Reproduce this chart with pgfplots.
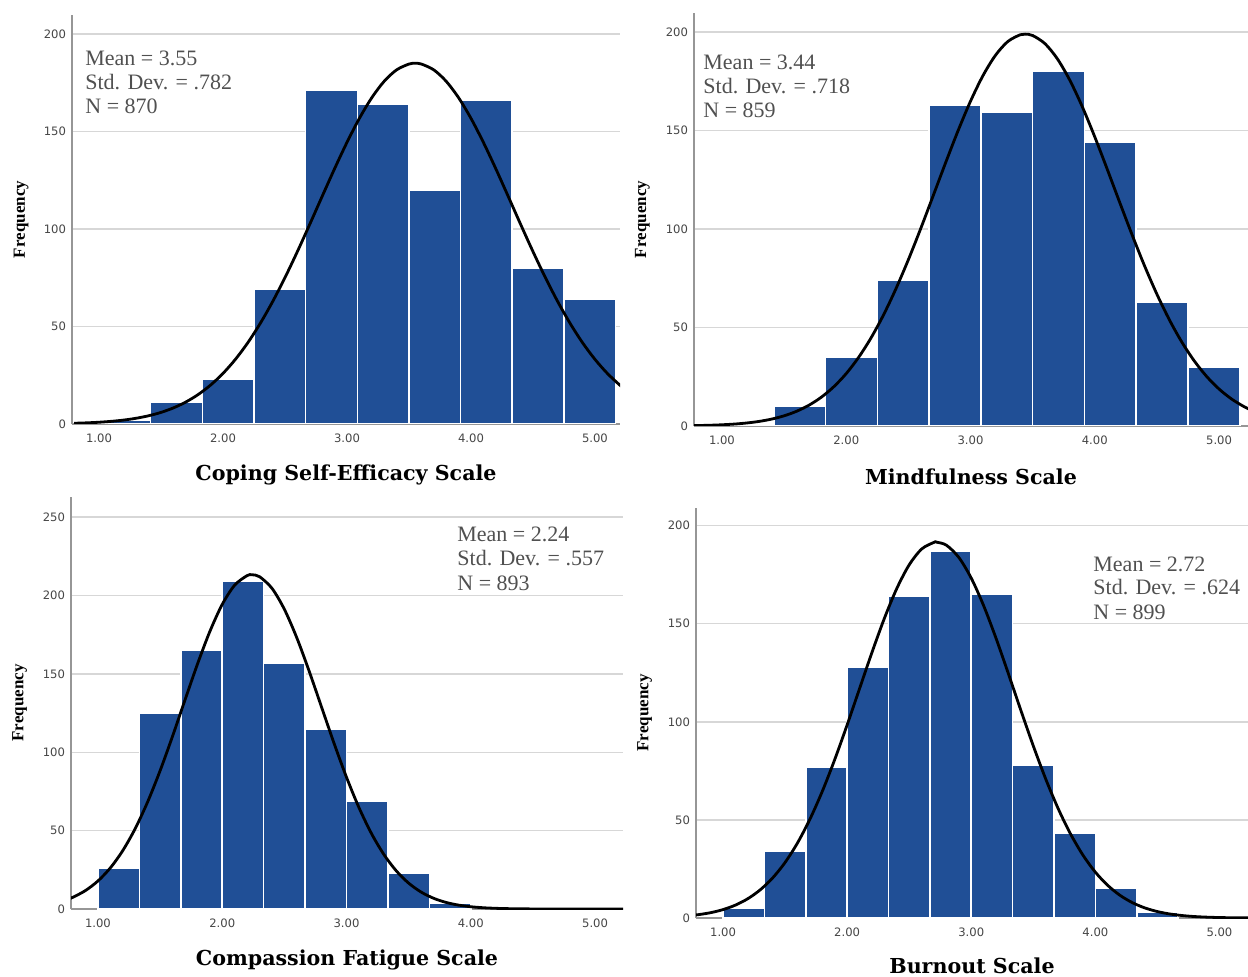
\documentclass[border=0pt]{standalone}
\usepackage{pgfplots}
\pgfplotsset{compat=1.18}
\usepackage{fontspec}
\setmainfont{Liberation Serif}
\newfontfamily\tickfont{DejaVu Sans}
\newfontfamily\titlefont{DejaVu Serif}
\definecolor{barblue}{RGB}{32,79,150}
\definecolor{gridgray}{RGB}{215,215,215}
\definecolor{axgray}{RGB}{150,150,150}
\definecolor{tickgray}{RGB}{70,70,70}
\definecolor{anngray}{RGB}{80,80,80}
\pgfplotsset{
  spss/.style={
    scale only axis, anchor=south west,
    axis x line=bottom, axis y line=left,
    axis line style={-, draw=axgray, line width=0.6pt},
    ymin=0,
    xtick={1,2,3,4,5}, xticklabels={1.00,2.00,3.00,4.00,5.00},
    major tick length=0pt,
    ymajorgrids, grid style={draw=gridgray, line width=0.7pt},
    tick label style={font=\tickfont\fontsize{5.8}{7}\selectfont, text=tickgray},
    xticklabel style={yshift=-1.5pt},
    yticklabel style={xshift=0.5pt},
    xlabel style={at={(axis description cs:0.5,0)}, anchor=center, yshift=-25.5pt,
      font=\titlefont\bfseries\fontsize{10.3}{12}\selectfont},
    ylabel style={at={(axis description cs:-0.093,0.5)}, anchor=center,
      font=\bfseries\fontsize{8.5}{9}\selectfont},
    ylabel={Frequency},
  },
  bars/.style={ybar interval, fill=barblue, draw=white, line width=0.8pt},
  curve/.style={black, line width=1.4pt, smooth},
}
\begin{document}
\begin{tikzpicture}
\useasboundingbox (0,0) rectangle (624pt,488pt);

% Panel 1
\begin{axis}[spss, at={(36pt,276pt)}, width=274pt, height=204.5pt,
  xmin=0.782, xmax=5.202, ymax=209.7,
  ytick={0,50,100,150,200}, yticklabels={0,50,100,150,200},
  xlabel={Coping Self-Efficacy Scale}]
\addplot[bars] coordinates {(1.0000,2) (1.4167,11) (1.8333,23) (2.2500,69) (2.6667,171) (3.0833,164) (3.5000,120) (3.9167,166) (4.3333,80) (4.7500,64) (5.1667,0)};
\addplot[curve] coordinates {(0.8,0.38) (0.9,0.59) (1.0,0.91) (1.1,1.37) (1.2,2.02) (1.3,2.95) (1.4,4.22) (1.5,5.95) (1.6,8.26) (1.7,11.26) (1.8,15.12) (1.9,19.97) (2.0,25.94) (2.1,33.15) (2.2,41.67) (2.3,51.55) (2.4,62.72) (2.5,75.08) (2.6,88.42) (2.7,102.44) (2.8,116.75) (2.9,130.91) (3.0,144.41) (3.1,156.71) (3.2,167.30) (3.3,175.72) (3.4,181.56) (3.5,184.55) (3.55,184.93) (3.6,184.55) (3.7,181.56) (3.8,175.72) (3.9,167.30) (4.0,156.71) (4.1,144.41) (4.2,130.91) (4.3,116.75) (4.4,102.44) (4.5,88.42) (4.6,75.08) (4.7,62.72) (4.8,51.55) (4.9,41.67) (5.0,33.15) (5.1,25.94) (5.2,19.97) (5.25,17.5)};
\end{axis}

% Panel 2
\begin{axis}[spss, at={(347pt,275pt)}, width=277pt, height=206.5pt,
  xmin=0.775, xmax=5.233, ymax=209.6,
  ytick={0,50,100,150,200}, yticklabels={0,50,100,150,200},
  xlabel={Mindfulness Scale}]
\addplot[bars] coordinates {(1.0000,1) (1.4167,10) (1.8333,35) (2.2500,74) (2.6667,163) (3.0833,159) (3.5000,180) (3.9167,144) (4.3333,63) (4.7500,30) (5.1667,0)};
\addplot[curve] coordinates {(0.75,0.18) (0.8,0.23) (0.9,0.38) (1.0,0.62) (1.1,0.98) (1.2,1.53) (1.3,2.34) (1.4,3.51) (1.5,5.17) (1.6,7.46) (1.7,10.55) (1.8,14.64) (1.9,19.94) (2.0,26.61) (2.1,34.86) (2.2,44.76) (2.3,56.38) (2.4,69.66) (2.5,84.41) (2.6,100.31) (2.7,116.93) (2.8,133.67) (2.9,149.88) (3.0,164.83) (3.1,177.78) (3.2,188.06) (3.3,195.12) (3.4,198.56) (3.44,198.87) (3.5,198.18) (3.6,193.99) (3.7,186.25) (3.8,175.38) (3.9,161.97) (4.0,146.72) (4.1,130.35) (4.2,113.57) (4.3,97.06) (4.4,81.35) (4.5,66.88) (4.6,53.93) (4.7,42.64) (4.8,33.07) (4.9,25.16) (5.0,18.77) (5.1,13.73) (5.2,9.86) (5.25,8.3)};
\end{axis}

% Panel 3
\begin{axis}[spss, at={(35.5pt,33.5pt)}, width=276pt, height=206pt,
  xmin=0.783, xmax=5.225, ymax=262.8,
  ytick={0,50,100,150,200,250}, yticklabels={0,50,100,150,200,250},
  xlabel={Compassion Fatigue Scale}]
\addplot[bars] coordinates {(1.0000,26) (1.3333,125) (1.6667,165) (2.0000,209) (2.3333,157) (2.6667,115) (3.0000,69) (3.3333,23) (3.6667,4) (4.0000,0)};
\addplot[curve] coordinates {(0.75,5.9) (0.8,7.54) (0.9,11.80) (1.0,17.89) (1.1,26.26) (1.2,37.31) (1.3,51.33) (1.4,68.37) (1.5,88.21) (1.6,110.18) (1.7,133.26) (1.8,156.06) (1.9,176.96) (2.0,194.30) (2.1,206.57) (2.2,212.65) (2.24,213.20) (2.3,211.97) (2.4,204.58) (2.5,191.19) (2.6,173.01) (2.7,151.60) (2.8,128.62) (2.9,105.66) (3.0,84.04) (3.1,64.74) (3.2,48.28) (3.3,34.86) (3.4,24.38) (3.5,16.50) (3.6,10.82) (3.7,6.87) (3.8,4.22) (3.9,2.51) (4.0,1.45) (4.1,0.81) (4.2,0.44) (4.3,0.23) (4.4,0.12) (4.5,0.05) (4.6,0.02) (4.8,0.003) (5.0,0) (5.25,0)};
\end{axis}

% Panel 4
\begin{axis}[spss, at={(348pt,29pt)}, width=276pt, height=205pt,
  xmin=0.782, xmax=5.23, ymax=209,
  ytick={0,50,100,150,200}, yticklabels={0,50,100,150,200},
  xlabel={Burnout Scale}, xlabel style={yshift=1.5pt}]
\addplot[bars] coordinates {(1.0000,5) (1.3333,34) (1.6667,77) (2.0000,128) (2.3333,164) (2.6667,187) (3.0000,165) (3.3333,78) (3.6667,43) (4.0000,15) (4.3333,3) (4.6667,0)};
\addplot[curve] coordinates {(0.75,1.4) (0.8,1.69) (0.9,2.72) (1.0,4.29) (1.1,6.59) (1.2,9.86) (1.3,14.38) (1.4,20.45) (1.5,28.33) (1.6,38.27) (1.7,50.37) (1.8,64.62) (1.9,80.80) (2.0,98.46) (2.1,116.95) (2.2,135.39) (2.3,152.76) (2.4,167.98) (2.5,180.05) (2.6,188.08) (2.7,191.49) (2.72,191.59) (2.8,190.02) (2.9,183.78) (3.0,173.24) (3.1,159.17) (3.2,142.52) (3.3,124.39) (3.4,105.80) (3.5,87.72) (3.6,70.87) (3.7,55.81) (3.8,42.85) (3.9,32.06) (4.0,23.37) (4.1,16.61) (4.2,11.50) (4.3,7.77) (4.4,5.11) (4.5,3.28) (4.6,2.05) (4.7,1.25) (4.8,0.74) (4.9,0.43) (5.0,0.24) (5.1,0.13) (5.2,0.07) (5.25,0.05)};
\end{axis}

% Annotations
\begin{scope}[every node/.style={anchor=base west, inner sep=0pt, text=anngray, font=\fontsize{11}{12}\selectfont}]
\node at (42.5pt,455pt) {Mean = 3.55};
\node at (42.5pt,443pt) {Std. Dev. = .782};
\node at (42.5pt,431pt) {N = 870};
\node at (351.5pt,453pt) {Mean = 3.44};
\node at (351.5pt,441pt) {Std. Dev. = .718};
\node at (351.5pt,429pt) {N = 859};
\node at (228.5pt,217pt) {Mean = 2.24};
\node at (228.5pt,205pt) {Std. Dev. = .557};
\node at (228.5pt,193pt) {N = 893};
\node at (546.5pt,202.5pt) {Mean = 2.72};
\node at (546.5pt,190.5pt) {Std. Dev. = .624};
\node at (546.5pt,178.5pt) {N = 899};
\end{scope}
\end{tikzpicture}
\end{document}
